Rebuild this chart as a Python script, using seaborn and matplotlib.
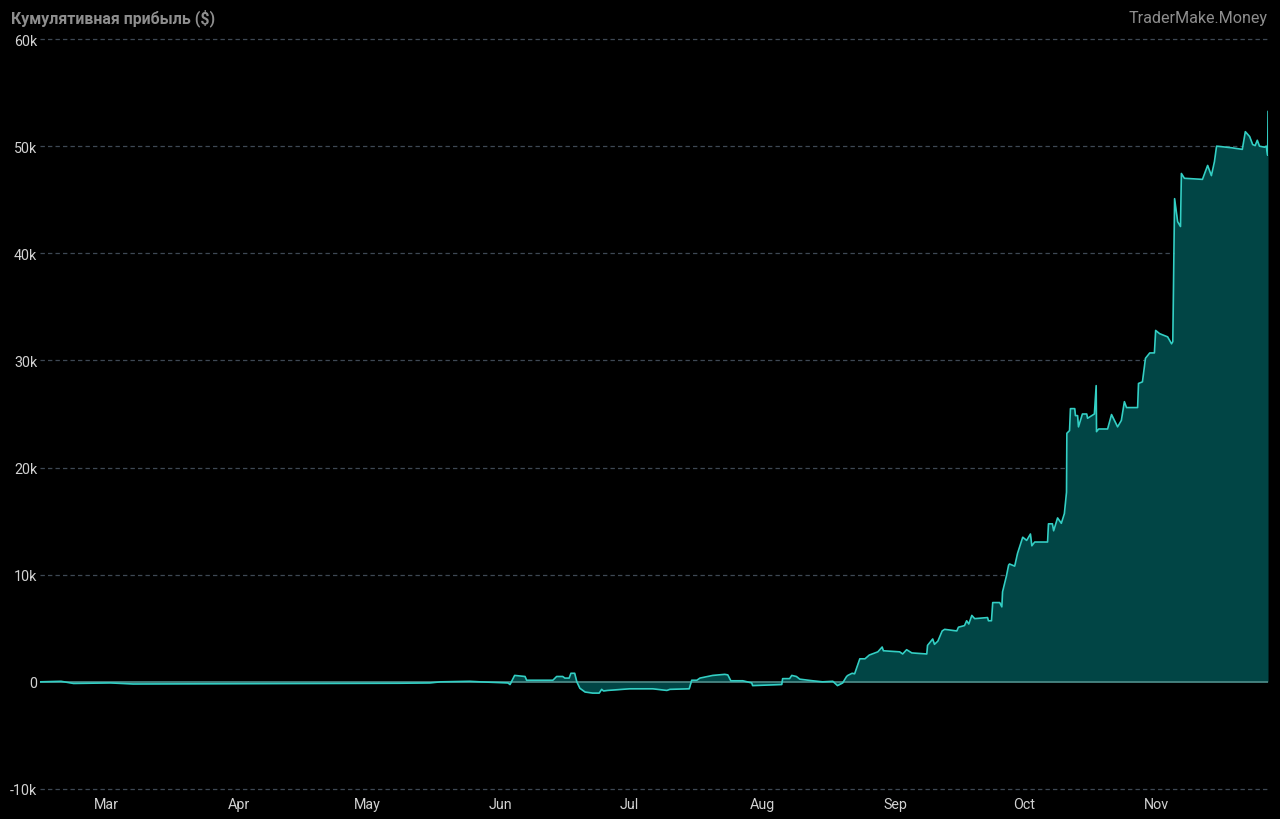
import matplotlib
matplotlib.use("Agg")
import matplotlib.pyplot as plt
from matplotlib.ticker import FuncFormatter, FixedLocator
import seaborn as sns
import pandas as pd

# ---- data ----
dates = [
    "02-13 14", "02-18 12", "02-21 10", "03-02 00", "03-07 07", "03-23 00",
    "04-15 05", "05-08 12", "05-15 12", "05-18 00", "05-24 19", "05-27 05",
    "06-02 17", "06-03 05", "06-04 07", "06-06 17", "06-07 02", "06-13 05",
    "06-14 02", "06-15 12", "06-16 00", "06-17 00", "06-17 10", "06-18 07",
    "06-18 19", "06-19 12", "06-20 17", "06-22 12", "06-24 00", "06-24 14",
    "06-25 00", "06-26 00", "07-01 02", "07-06 12", "07-09 19", "07-10 12",
    "07-15 00", "07-15 14", "07-16 19", "07-17 12", "07-20 12", "07-23 07",
    "07-24 00", "07-24 17", "07-27 12", "07-29 14", "07-29 19", "08-02 02",
    "08-05 14", "08-05 19", "08-07 10", "08-07 22", "08-09 00", "08-09 19",
    "08-12 19", "08-15 02", "08-17 12", "08-18 14", "08-19 19", "08-20 17",
    "08-21 00", "08-22 00", "08-22 14", "08-23 19", "08-25 00", "08-26 00",
    "08-28 00", "08-29 00", "08-29 07", "09-02 02", "09-02 19", "09-03 17",
    "09-04 22", "09-08 10", "09-08 14", "09-09 19", "09-10 05", "09-11 00",
    "09-12 00", "09-12 14", "09-15 10", "09-15 19", "09-17 05", "09-17 17",
    "09-18 05", "09-18 22", "09-19 14", "09-22 14", "09-22 19", "09-23 12",
    "09-23 19", "09-25 10", "09-25 22", "09-26 02", "09-27 00", "09-27 12",
    "09-27 17", "09-28 22", "09-29 14", "09-30 19", "10-01 17", "10-02 14",
    "10-02 22", "10-03 14", "10-06 14", "10-06 19", "10-07 17", "10-08 00",
    "10-08 22", "10-09 19", "10-10 12", "10-11 00", "10-11 02", "10-11 17",
    "10-11 22", "10-12 22", "10-13 02", "10-13 14", "10-13 19", "10-14 17",
    "10-15 17", "10-15 22", "10-17 12", "10-17 22", "10-18 00", "10-18 12",
    "10-20 14", "10-21 12", "10-22 22", "10-23 19", "10-24 12", "10-25 00",
    "10-27 14", "10-27 19", "10-28 17", "10-29 10", "10-29 17", "10-30 10",
    "10-31 12", "10-31 19", "11-01 17", "11-03 14", "11-04 12", "11-04 19",
    "11-04 22", "11-05 05", "11-05 22", "11-06 14", "11-06 19", "11-07 12",
    "11-11 17", "11-12 22", "11-13 19", "11-14 12", "11-15 00", "11-18 12",
    "11-21 00", "11-21 17", "11-22 17", "11-23 10", "11-24 00", "11-24 12",
    "11-25 00", "11-26 05", "11-26 14", "11-26 22", "11-27 00",
]
profit = [
    0, 50, -150, -100, -200, -180,
    -150, -130, -100, 0, 50, 0,
    -100, -250, 600, 500, 150, 150,
    500, 500, 350, 350, 800, 800,
    0, -600, -950, -1050, -1050, -700,
    -850, -800, -650, -650, -800, -700,
    -650, 150, 150, 350, 600, 700,
    650, 100, 100, -100, -350, -300,
    -250, 300, 300, 600, 500, 250,
    100, 0, 50, -350, -100, 500,
    600, 800, 750, 2150, 2150, 2500,
    2800, 3250, 2900, 2800, 2600, 3000,
    2700, 2600, 3400, 4000, 3500, 3800,
    4750, 4900, 4750, 5100, 5250, 5700,
    5400, 6200, 5900, 6000, 5700, 5700,
    7400, 7400, 7000, 8400, 9900, 10900,
    11000, 10800, 12000, 13500, 13200, 13800,
    12700, 13050, 13050, 14750, 14750, 14100,
    15300, 14800, 15700, 17700, 23200, 23450,
    25500, 25500, 24850, 24850, 23800, 25000,
    25000, 24600, 25000, 27650, 23350, 23600,
    23600, 24950, 23800, 24400, 26150, 25600,
    25600, 27850, 28000, 30200, 30350, 30700,
    30700, 32800, 32500, 32200, 31550, 31750,
    35800, 45100, 42950, 42500, 47450, 47000,
    46900, 48200, 47250, 48550, 50000, 49850,
    49700, 51350, 50900, 50150, 50050, 50550,
    50000, 49900, 50000, 49150, 53250,
]
y_ticks = [-10000, 0, 10000, 20000, 30000, 40000, 50000, 60000]
month_ticks = ["2023-03-01", "2023-04-01", "2023-05-01", "2023-06-01", "2023-07-01",
               "2023-08-01", "2023-09-01", "2023-10-01", "2023-11-01"]
month_labels = ["Mar", "Apr", "May", "Jun", "Jul", "Aug", "Sep", "Oct", "Nov"]
title = "Кумулятивная прибыль ($)"
brand = "TraderMake.Money"

df = pd.DataFrame({
    "date": pd.to_datetime(["2023-" + d + ":00" for d in dates], format="%Y-%m-%d %H:%M"),
    "profit": profit,
})

# ---- style ----
sns.set_theme(style="dark")
plt.rcParams["font.family"] = ["Roboto", "DejaVu Sans"]
BG = "#000000"
LINE = "#33cfc4"
FILL = "#014545"
GRID = "#3e4854"
TXT = "#d2d2d2"

fig = plt.figure(figsize=(12.8, 8.2), dpi=100, facecolor=BG)
ax = fig.add_axes([0.03125, 0.0366, 0.9594, 0.9146])
ax.set_facecolor(BG)

ax.fill_between(df["date"], df["profit"], 0, color=FILL, linewidth=0, zorder=1)
ax.axhline(0, color="#4f8c8a", linewidth=1.2, zorder=2)
sns.lineplot(data=df, x="date", y="profit", ax=ax, color=LINE, linewidth=1.2, zorder=3)

ax.set_ylim(-10000, 60000)
ax.set_xlim(df["date"].min(), df["date"].max())
ax.yaxis.set_major_locator(FixedLocator(y_ticks))
ax.yaxis.set_major_formatter(FuncFormatter(lambda v, p: "0" if v == 0 else f"{int(v/1000)}k"))
ax.set_xticks(pd.to_datetime(month_ticks))
ax.set_xticklabels(month_labels)

ax.grid(False)
for t in y_ticks:
    if t != 0:
        ax.axhline(t, color=GRID, linewidth=0.9, linestyle=(0, (3.5, 2.5)),
                   zorder=0.5, clip_on=False)

for s in ax.spines.values():
    s.set_visible(False)
ax.tick_params(axis="both", length=0, colors=TXT, labelsize=10.3)
ax.tick_params(axis="y", pad=2)
ax.tick_params(axis="x", pad=6)
ax.set_xlabel("")
ax.set_ylabel("")

fig.text(0.0086, 0.978, title, color="#8e8e8e", fontsize=11.4, fontweight="bold",
         ha="left", va="center")
fig.text(0.9906, 0.978, brand, color="#8e8e8e", fontsize=11.6, ha="right", va="center")

fig.savefig("out.png", dpi=100, facecolor=BG)
